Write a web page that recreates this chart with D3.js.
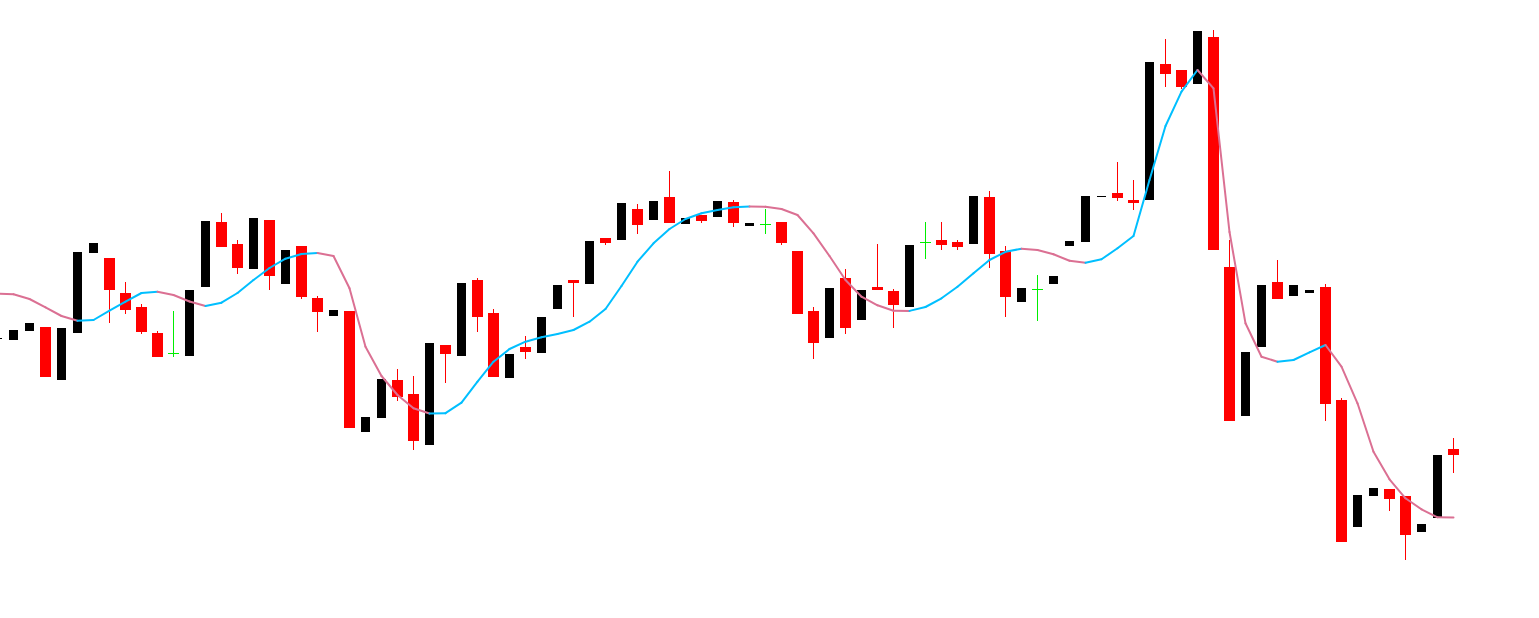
<!DOCTYPE html>
<html>
<head>
<meta charset="utf-8">
<script src="https://cdn.jsdelivr.net/npm/d3@7"></script>
<style>
    html, body { margin: 0; padding: 0; background: #ffffff; overflow: hidden; }
</style>
</head>
<body>
<div id="candle_chart"></div>
<script>
// Candlestick chart with a two-colour moving average
// prices are in points

var opens = [361, 360, 369, 373, 320, 367, 447, 442, 407, 393, 367, 347, 344, 413, 478, 456, 431, 480, 416, 454,
    402, 384, 389, 268, 282, 320, 306, 255, 355, 344, 420, 387, 322, 353, 347, 391, 420, 416, 462, 460,
    491, 480, 503, 476, 485, 483, 498, 474, 476, 478, 449, 389, 362, 422, 380, 413, 409, 393, 458, 460,
    458, 456, 503, 449, 398, 411, 416, 454, 458, 503, 507, 500, 500, 636, 630, 616, 663, 433, 284, 353,
    418, 404, 407, 413, 300, 173, 204, 211, 204, 168, 182, 251];

var closes = [362, 370, 377, 323, 372, 448, 457, 410, 390, 368, 343, 347, 410, 479, 453, 432, 482, 424, 450, 403,
    388, 390, 272, 283, 321, 303, 259, 357, 346, 417, 383, 323, 346, 348, 383, 415, 417, 459, 457, 497,
    475, 499, 477, 482, 479, 499, 477, 477, 476, 457, 386, 357, 412, 372, 410, 410, 395, 455, 458, 455,
    453, 504, 446, 403, 412, 411, 424, 459, 504, 504, 502, 497, 638, 626, 613, 669, 450, 279, 348, 415,
    401, 415, 410, 296, 158, 205, 212, 201, 165, 176, 245, 245];

var highs = [362, 370, 377, 373, 372, 448, 457, 442, 418, 396, 369, 389, 410, 479, 487, 460, 482, 480, 450, 454,
    404, 390, 389, 283, 321, 331, 324, 357, 355, 417, 422, 391, 346, 364, 383, 415, 420, 459, 462, 497,
    496, 499, 529, 482, 485, 499, 500, 477, 491, 478, 449, 393, 412, 431, 410, 456, 411, 455, 478, 478,
    460, 504, 509, 454, 412, 425, 424, 459, 504, 504, 538, 520, 638, 661, 630, 669, 670, 460, 348, 415,
    440, 415, 410, 416, 302, 205, 212, 211, 204, 176, 245, 262];

var lows = [361, 360, 369, 323, 320, 367, 447, 377, 386, 366, 343, 343, 344, 413, 453, 426, 431, 410, 416, 401,
    368, 384, 272, 268, 282, 299, 250, 255, 317, 344, 368, 323, 322, 341, 347, 391, 383, 416, 455, 460,
    466, 480, 477, 476, 477, 483, 473, 474, 466, 455, 386, 341, 362, 366, 380, 410, 372, 393, 441, 450,
    450, 456, 432, 383, 398, 379, 416, 454, 458, 503, 499, 490, 500, 613, 611, 616, 450, 279, 284, 353,
    401, 404, 407, 279, 158, 173, 204, 189, 140, 168, 182, 227];

// moving average, one value per candle
var maValues = [406.3, 405.7, 401, 392.7, 384, 379.3, 380, 389.3, 398.3, 407, 408.3, 405, 398.5, 394, 397.3, 407, 420, 432, 441.3, 446,
    447, 444, 411.7, 353.3, 324, 305, 291.7, 286.5, 286.8, 297.3, 318.3, 338.3, 351, 358.3, 362.7, 366, 370, 378.3, 391, 414,
    438.3, 456.7, 471, 481, 486.7, 490, 492.7, 493.5, 493.2, 491, 485, 466.7, 444, 420, 403.3, 394.7, 389.3, 389.1, 393, 401.7,
    413.3, 426.7, 440, 448.2, 451.3, 450, 445.7, 439.3, 437.3, 440.7, 451.7, 464, 520, 574, 608.3, 630, 611.7, 468, 376.7, 343.3,
    338.3, 340, 347.7, 355, 333.3, 296.7, 248.3, 220.7, 201.7, 190.7, 182.7, 182.5];

document.addEventListener("DOMContentLoaded", function () {
    var width = 1539,
        height = 618;

    var data = opens.map(function (o, i) {
        return { i: i, open: o, close: closes[i], high: highs[i], low: lows[i] };
    });

    // index -> candle centre, price -> pixel
    var x = d3.scaleLinear().domain([0, 91]).range([-2.5, 1453.5]);
    var y = d3.scaleLinear().domain([82, 700]).range([height, 0]);

    var svg = d3.select("#candle_chart").append("svg")
        .attr("width", width)
        .attr("height", height)
        .style("display", "block");

    svg.append("rect")
        .attr("width", width)
        .attr("height", height)
        .attr("fill", "#ffffff");

    var bears = data.filter(function (d) { return d.close < d.open; });
    var bulls = data.filter(function (d) { return d.close > d.open; });
    var dojis = data.filter(function (d) { return d.close === d.open; });

    // wicks of the red candles
    svg.append("g").selectAll("line")
        .data(bears)
        .enter().append("line")
        .attr("x1", function (d) { return x(d.i); })
        .attr("x2", function (d) { return x(d.i); })
        .attr("y1", function (d) { return y(d.high); })
        .attr("y2", function (d) { return y(d.low); })
        .attr("stroke", "#ff0000")
        .attr("stroke-width", 1);

    // red bodies
    svg.append("g").selectAll("rect")
        .data(bears)
        .enter().append("rect")
        .attr("x", function (d) { return x(d.i) - 5.5; })
        .attr("width", 11)
        .attr("y", function (d) { return y(d.open); })
        .attr("height", function (d) { return y(d.close) - y(d.open); })
        .attr("fill", "#ff0000");

    // black bodies
    svg.append("g").selectAll("rect")
        .data(bulls)
        .enter().append("rect")
        .attr("x", function (d) { return x(d.i) - 4.5; })
        .attr("width", 9)
        .attr("y", function (d) { return y(d.close); })
        .attr("height", function (d) { return y(d.open) - y(d.close); })
        .attr("fill", "#000000");

    // green doji crosses
    var dg = svg.append("g").attr("stroke", "#00ee00").attr("stroke-width", 1);
    dg.selectAll("line.v")
        .data(dojis)
        .enter().append("line")
        .attr("class", "v")
        .attr("x1", function (d) { return x(d.i); })
        .attr("x2", function (d) { return x(d.i); })
        .attr("y1", function (d) { return y(d.high); })
        .attr("y2", function (d) { return y(d.low); });
    dg.selectAll("line.h")
        .data(dojis)
        .enter().append("line")
        .attr("class", "h")
        .attr("x1", function (d) { return x(d.i) - 5.5; })
        .attr("x2", function (d) { return x(d.i) + 5.5; })
        .attr("y1", function (d) { return y(d.open) + 0.5; })
        .attr("y2", function (d) { return y(d.open) + 0.5; });

    // moving average: blue while rising, pink while falling
    var maLine = d3.line()
        .x(function (d) { return x(d[0]); })
        .y(function (d) { return y(d[1]); });

    var segments = d3.range(1, maValues.length).map(function (i) {
        return [[i - 1, maValues[i - 1]], [i, maValues[i]]];
    });

    svg.append("g").selectAll("path")
        .data(segments)
        .enter().append("path")
        .attr("d", maLine)
        .attr("fill", "none")
        .attr("stroke-width", 2)
        .attr("stroke-linecap", "round")
        .attr("stroke", function (s) { return s[1][1] > s[0][1] ? "#00bfff" : "#db7093"; });
});
</script>
</body>
</html>
